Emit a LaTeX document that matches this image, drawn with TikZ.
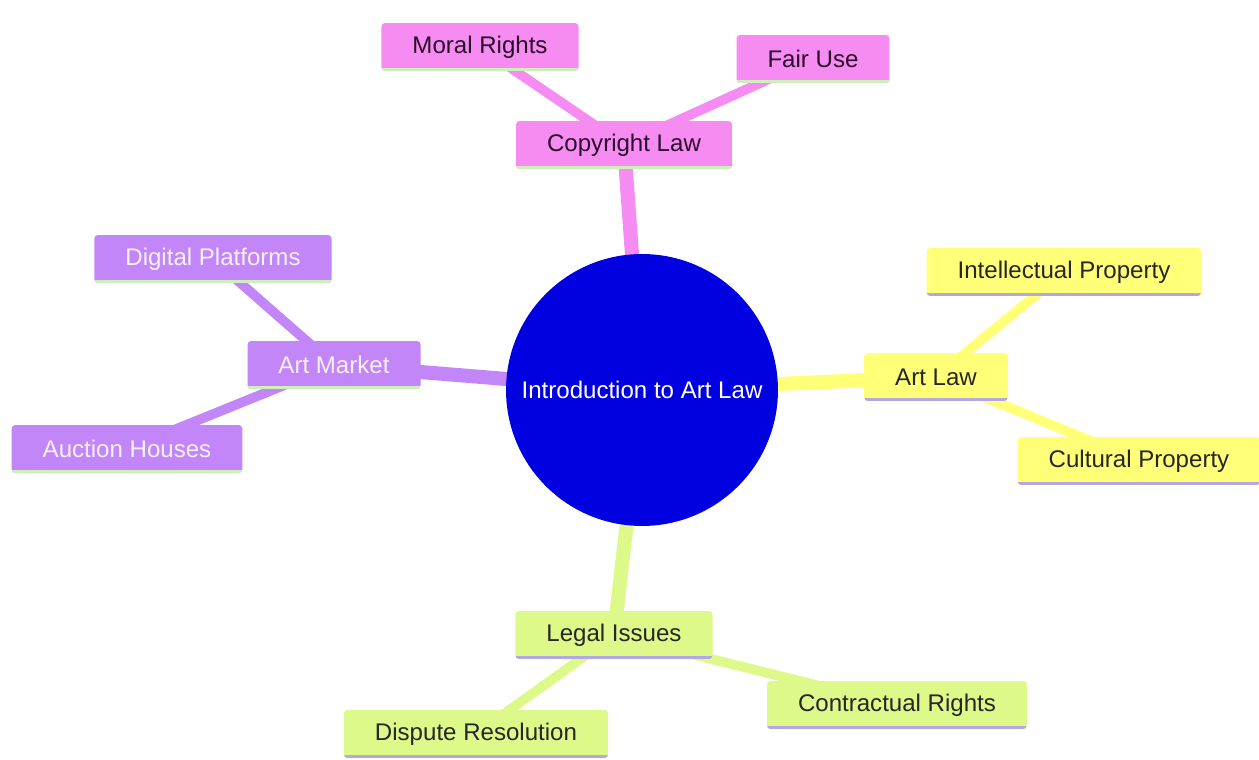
\documentclass[tikz,border=0pt]{standalone}
\usepackage{fontspec}
\setmainfont{Liberation Sans}
\usepackage{tikz}
\usetikzlibrary{backgrounds}

\definecolor{rootblue}{HTML}{0000E0}
\definecolor{pinkfill}{HTML}{F68CF2}
\definecolor{purplefill}{HTML}{C286F8}
\definecolor{yellowfill}{HTML}{FFFF78}
\definecolor{greenfill}{HTML}{DDF98A}
\definecolor{pinktext}{HTML}{2A0A2A}
\definecolor{purpletext}{HTML}{F8F0FF}
\definecolor{stripgreen}{HTML}{CDEFB8}
\definecolor{striplilac}{HTML}{B4A8E4}

\begin{document}
\begin{tikzpicture}[x=0.02cm, y=-0.02cm,
        box/.style={rounded corners=2pt, minimum height=0.96cm, inner xsep=0.62cm,
            font=\fontsize{13.7}{16}\selectfont},
        strip/.style={path picture={\draw[#1, line width=3pt]
            (path picture bounding box.south west) -- (path picture bounding box.south east);}},
        pinkbox/.style={box, fill=pinkfill, text=pinktext, strip=stripgreen},
        purplebox/.style={box, fill=purplefill, text=purpletext, strip=stripgreen},
        yellowbox/.style={box, fill=yellowfill, text=black!85, strip=striplilac},
        greenbox/.style={box, fill=greenfill, text=black!85, strip=striplilac},
        trunk/.style={line width=8pt},
        twig/.style={line width=5.5pt}]
        \useasboundingbox (0,0) rectangle (1259,760);

        \node (root) at (642,390) [circle, fill=rootblue, minimum size=5.44cm, inner sep=0pt,
            text=white, font=\fontsize{13.7}{16}\selectfont] {Introduction to Art Law};

        \node (copy) at (624,145) [pinkbox] {Copyright Law};
        \node (moral) at (480,47) [pinkbox] {Moral Rights};
        \node (fair) at (813,59) [pinkbox] {Fair Use};

        \node (market) at (334,365) [purplebox] {Art Market};
        \node (digital) at (213,259) [purplebox] {Digital Platforms};
        \node (auction) at (127,449) [purplebox] {Auction Houses};

        \node (artlaw) at (936,377) [yellowbox] {Art Law};
        \node (intel) at (1064,272) [yellowbox] {Intellectual Property};
        \node (cultural) at (1139,461) [yellowbox] {Cultural Property};

        \node (legal) at (614,635) [greenbox] {Legal Issues};
        \node (dispute) at (476,734) [greenbox] {Dispute Resolution};
        \node (contract) at (897,705) [greenbox] {Contractual Rights};

        % connectors go under the boxes
        \begin{scope}[on background layer]
        \draw[trunk, pinkfill] (root.center) -- (copy.center);
        \draw[twig, pinkfill] (copy.center) -- (moral.center);
        \draw[twig, pinkfill] (copy.center) -- (fair.center);

        \draw[trunk, purplefill] (root.center) -- (market.center);
        \draw[twig, purplefill] (market.center) -- (digital.center);
        \draw[twig, purplefill] (market.center) -- (auction.center);

        \draw[trunk, yellowfill] (root.center) -- (artlaw.center);
        \draw[twig, yellowfill] (artlaw.center) -- (intel.center);
        \draw[twig, yellowfill] (artlaw.center) -- (cultural.center);

        \draw[trunk, greenfill] (root.center) -- (legal.center);
        \draw[twig, greenfill] (legal.center) -- (dispute.center);
        \draw[twig, greenfill] (legal.center) -- (contract.center);
        \end{scope}
\end{tikzpicture}
\end{document}
